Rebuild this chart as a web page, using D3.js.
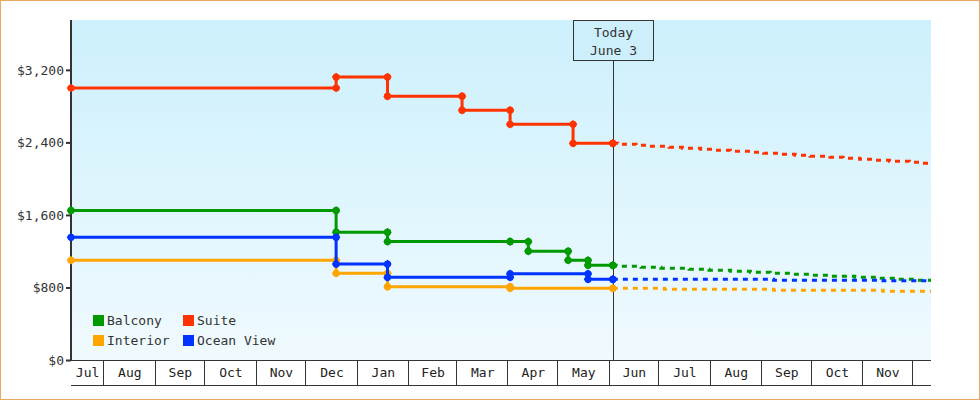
<!DOCTYPE html>
<html><head><meta charset="utf-8">
<script src="https://cdn.jsdelivr.net/npm/d3@7"></script>
<style>
html,body{margin:0;padding:0;background:#fff;}
svg text{font-family:"DejaVu Sans Mono",monospace;font-size:13px;fill:#333;}
</style></head>
<body>
<svg id="c" width="980" height="400"></svg>
<script>
// ---- data ----
const domainStart = "2023-07-12", domainEnd = "2024-12-12";
const todayDate = "2024-06-03";
const todayLabel = ["Today", "June 3"];
const yTicks = [0, 800, 1600, 2400, 3200];
const monthLabels = ["Jul","Aug","Sep","Oct","Nov","Dec","Jan","Feb","Mar","Apr","May","Jun","Jul","Aug","Sep","Oct","Nov","Dec"];
const seriesNames = ["Balcony", "Suite", "Interior", "Ocean View"];
const seriesColors = ["#009900", "#ff3300", "#ffa500", "#0033ff"];

const balconyHistory = [["2023-07-12",1650],["2023-12-19",1410],["2024-01-19",1306],["2024-04-02",1306],["2024-04-13",1200],["2024-05-07",1100],["2024-05-19",1045],["2024-06-03",1045]];
const suiteHistory = [["2023-07-12",3000],["2023-12-19",3120],["2024-01-19",2910],["2024-03-04",2755],["2024-04-02",2600],["2024-05-10",2390],["2024-06-03",2390]];
const interiorHistory = [["2023-07-12",1100],["2023-12-19",957],["2024-01-19",809],["2024-04-02",790],["2024-06-03",790]];
const oceanHistory = [["2023-07-12",1354],["2023-12-19",1059],["2024-01-19",912],["2024-04-02",950],["2024-05-19",890],["2024-06-03",890]];

const balconyForecast = [["2024-06-03",1045],["2024-06-05",1034],["2024-06-20",1023],["2024-07-02",1012],["2024-07-19",1001],["2024-07-31",990],["2024-08-13",979],["2024-08-25",968],["2024-09-06",957],["2024-09-19",946],["2024-10-01",935],["2024-10-13",924],["2024-10-27",913],["2024-11-09",901],["2024-11-21",890],["2024-12-03",880],["2024-12-12",880]];
const suiteForecast = [["2024-06-03",2390],["2024-06-06",2380],["2024-06-17",2369],["2024-06-25",2358],["2024-07-07",2347],["2024-07-15",2336],["2024-07-26",2325],["2024-08-04",2314],["2024-08-13",2303],["2024-08-25",2292],["2024-09-02",2281],["2024-09-12",2270],["2024-09-21",2259],["2024-09-30",2248],["2024-10-12",2237],["2024-10-20",2226],["2024-10-30",2215],["2024-11-07",2204],["2024-11-17",2193],["2024-11-29",2182],["2024-12-07",2171],["2024-12-12",2171]];
const interiorForecast = [["2024-06-03",790],["2024-07-04",780],["2024-09-08",769],["2024-11-13",758],["2024-12-12",758]];
const oceanForecast = [["2024-06-03",890],["2024-09-08",880],["2024-11-13",873],["2024-12-12",873]];

const histories = [balconyHistory, suiteHistory, interiorHistory, oceanHistory];
const forecasts = [balconyForecast, suiteForecast, interiorForecast, oceanForecast];
const drawOrder = [0, 1, 2, 3];

// ---- layout ----
const L = 71, R = 931, T = 20, B = 360, bandH = 25;
const parse = d3.timeParse("%Y-%m-%d");
const x = d3.scaleTime().domain([parse(domainStart), parse(domainEnd)]).range([L, R]);
const y = d3.scaleLinear().domain([0, 3750]).range([B, T]);

const svg = d3.select("#c");
const defs = svg.append("defs");
const grad = defs.append("linearGradient").attr("id","bg").attr("x1",0).attr("x2",0).attr("y1",0).attr("y2",1);
grad.append("stop").attr("offset","0%").attr("stop-color","#ccf0fc");
grad.append("stop").attr("offset","100%").attr("stop-color","#f0fafe");

svg.append("rect").attr("x",0.5).attr("y",0.5).attr("width",979).attr("height",399)
  .attr("fill","#fff").attr("stroke","#e8a860").attr("stroke-width",1);

svg.append("rect").attr("x",L).attr("y",T).attr("width",R-L).attr("height",B-T).attr("fill","url(#bg)");

// month bands
const months = d3.timeMonth.range(x.domain()[0], x.domain()[1]);
const bounds = [x.domain()[0], ...months, x.domain()[1]];
const bandG = svg.append("g");
bandG.append("line").attr("x1",L).attr("x2",R).attr("y1",B+bandH+0.5).attr("y2",B+bandH+0.5).attr("stroke","#333");
months.forEach(m => {
  const xx = Math.round(x(m)) - 0.5;
  bandG.append("line").attr("x1",xx).attr("x2",xx).attr("y1",B).attr("y2",B+bandH).attr("stroke","#333");
});
for (let i = 0; i < bounds.length - 1; i++) {
  const x0 = x(bounds[i]), x1 = x(bounds[i+1]);
  if (x1 - x0 < 30) continue;
  bandG.append("text").attr("x",(x0+x1)/2).attr("y",B+17).attr("text-anchor","middle")
    .style("fill","#222").text(monthLabels[i]);
}
bandG.append("line").attr("x1",L).attr("x2",R).attr("y1",B+0.5).attr("y2",B+0.5).attr("stroke","#333");

// y axis
const yAxis = d3.axisLeft(y).tickValues(yTicks).tickFormat(d3.format("$,")).tickSize(5).tickSizeOuter(0);
const yg = svg.append("g").attr("transform",`translate(${L},0)`).call(yAxis);
yg.select(".domain").attr("stroke","#333").attr("stroke-width",2).attr("d",`M0,${T}V${B+1}`);
yg.selectAll(".tick line").attr("stroke","#333").attr("stroke-width",2);
yg.selectAll(".tick text").attr("x",-7).style("font-family","DejaVu Sans Mono").style("font-size","13px").style("fill","#333");

// today marker
const tx = Math.round(x(parse(todayDate))) + 0.5;
svg.append("line").attr("x1",tx).attr("x2",tx).attr("y1",60).attr("y2",B).attr("stroke","#333").attr("stroke-width",1);
svg.append("rect").attr("x",tx-40).attr("y",20.5).attr("width",80).attr("height",40)
  .attr("fill","#cdeffc").attr("stroke","#333").attr("stroke-width",1);
svg.append("text").attr("x",tx).attr("y",37).attr("text-anchor","middle").text(todayLabel[0]);
svg.append("text").attr("x",tx).attr("y",55).attr("text-anchor","middle").text(todayLabel[1]);

// lines
const line = d3.line().x(d => x(parse(d[0]))).y(d => y(d[1])).curve(d3.curveStepAfter);
const diamond = d3.symbol().type(d3.symbolDiamond2).size(46);
const seriesG = svg.append("g");
drawOrder.forEach(i => {
  const g = seriesG.append("g");
  const c = seriesColors[i];
  g.append("path").attr("d", line(forecasts[i])).attr("fill","none").attr("stroke",c)
    .attr("stroke-width",3).attr("stroke-dasharray","5,5");
  g.append("path").attr("d", line(histories[i])).attr("fill","none").attr("stroke",c).attr("stroke-width",3);
  const h = histories[i];
  const pts = [];
  h.forEach((d, k) => {
    if (k > 0) pts.push([d[0], h[k-1][1]]);
    pts.push(d);
  });
  const m = g.selectAll("g.m").data(pts).join("g").attr("class","m")
    .attr("transform", d => `translate(${x(parse(d[0]))},${y(d[1])})`);
  m.append("path").attr("d", diamond).attr("fill", c);
  m.append("circle").attr("r", 3.6).attr("fill", c);
});

// legend
const legPos = [[93,315],[183,315],[93,335],[183,335]];
seriesNames.forEach((n, i) => {
  const [lx, ly] = legPos[i];
  svg.append("rect").attr("x",lx).attr("y",ly).attr("width",11).attr("height",11).attr("fill",seriesColors[i]);
  svg.append("text").attr("x",lx+14).attr("y",ly+10).text(n);
});
</script>
</body></html>
